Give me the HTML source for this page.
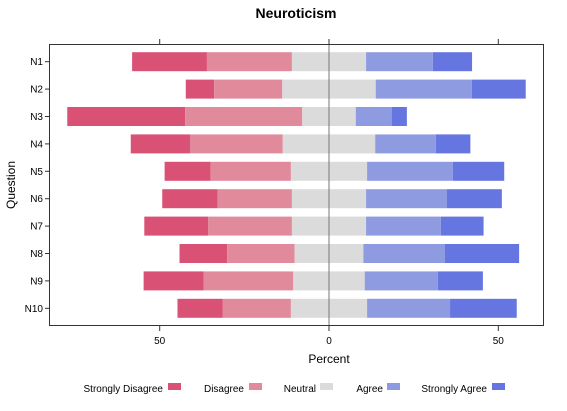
<!DOCTYPE html>
<html><head><meta charset="utf-8"><style>
body{margin:0;background:#fff;width:567px;height:406px;overflow:hidden;font-family:"Liberation Sans",Arial,sans-serif}
</style></head><body>
<svg id="chart" width="567" height="406" viewBox="0 0 567 406" xmlns="http://www.w3.org/2000/svg" font-family="Liberation Sans, Arial, sans-serif">
<text x="296" y="18" text-anchor="middle" font-size="14" font-weight="bold">Neuroticism</text>
<g id="bars"></g>
<line id="zeroline" x1="329" x2="329" y1="45" y2="325" stroke="#777" stroke-width="1"/>
<rect x="49.5" y="44.5" width="494" height="281" fill="none" stroke="#333" stroke-width="1"/>
<g id="axes" font-size="10"></g>
<text x="329" y="363" text-anchor="middle" font-size="12">Percent</text>
<text transform="translate(15,185) rotate(-90)" text-anchor="middle" font-size="12">Question</text>
<g id="legend" font-size="10"></g>
</svg>
<script>
const questions=["N1","N2","N3","N4","N5","N6","N7","N8","N9","N10"];
const stronglyDisagree=[22.1,8.4,34.8,17.6,13.6,16.4,18.9,14.1,17.7,13.4];
const disagree=[25.1,20.1,34.6,27.3,23.7,21.9,24.7,19.9,26.5,20.1];
const neutral=[21.9,27.6,15.8,27.3,22.5,21.9,21.9,20.3,21.1,22.5];
const agree=[19.7,28.4,10.6,17.9,25.3,23.9,22.1,24.1,21.6,24.5];
const stronglyAgree=[11.6,15.9,4.5,10.2,15.2,16.2,12.6,21.9,13.3,19.7];
const ticks=[-50,0,50];
const categories=["Strongly Disagree","Disagree","Neutral","Agree","Strongly Agree"];
const colors=["#D95276","#E08A9C","#DBDBDB","#8F9BE0","#6676E0"];
const NS="http://www.w3.org/2000/svg";
const x=v=>329+v*3.386;
const y=i=>61.7+i*27.4;
const bh=19;
const bars=document.getElementById('bars');
questions.forEach((q,i)=>{
  const vals=[stronglyDisagree[i],disagree[i],neutral[i],agree[i],stronglyAgree[i]];
  let start=-(stronglyDisagree[i]+disagree[i]+neutral[i]/2);
  vals.forEach((v,k)=>{
    const r=document.createElementNS(NS,'rect');
    
    
    r.setAttribute('x',x(start));r.setAttribute('width',x(start+v)-x(start));
    r.setAttribute('y',y(i)-bh/2);r.setAttribute('height',bh);
    r.setAttribute('fill',colors[k]);
    bars.appendChild(r);
    start+=v;
  });
});
const axes=document.getElementById('axes');
questions.forEach((q,i)=>{
  const t=document.createElementNS(NS,'text');
  
  
  t.setAttribute('x',43);t.setAttribute('y',y(i)+3.5);t.setAttribute('text-anchor','end');
  t.textContent=q;axes.appendChild(t);
  const l=document.createElementNS(NS,'line');
  
  
  l.setAttribute('x1',45);l.setAttribute('x2',49.5);l.setAttribute('y1',y(i));l.setAttribute('y2',y(i));l.setAttribute('stroke','#333');
  axes.appendChild(l);
});
ticks.forEach(v=>{
  [[39,44.5],[325.5,331]].forEach(([a,b])=>{
    const l=document.createElementNS(NS,'line');
    
    
    l.setAttribute('x1',x(v));l.setAttribute('x2',x(v));l.setAttribute('y1',a);l.setAttribute('y2',b);l.setAttribute('stroke','#333');
    axes.appendChild(l);
  });
  const t=document.createElementNS(NS,'text');
  
  
  t.setAttribute('x',x(v));t.setAttribute('y',344);t.setAttribute('text-anchor','middle');
  t.textContent=Math.abs(v);axes.appendChild(t);
});
const legend=document.getElementById('legend');
const textEnd=[163,244,316,383,487];
const boxX=[168,249,320,387,492];
categories.forEach((c,k)=>{
  const t=document.createElementNS(NS,'text');
  
  
  t.setAttribute('x',textEnd[k]);t.setAttribute('y',392);t.setAttribute('text-anchor','end');
  t.textContent=c;legend.appendChild(t);
  const r=document.createElementNS(NS,'rect');
  
  
  r.setAttribute('x',boxX[k]);r.setAttribute('y',383);r.setAttribute('width',13);r.setAttribute('height',7);r.setAttribute('fill',colors[k]);
  legend.appendChild(r);
});
</script>
</body></html>
